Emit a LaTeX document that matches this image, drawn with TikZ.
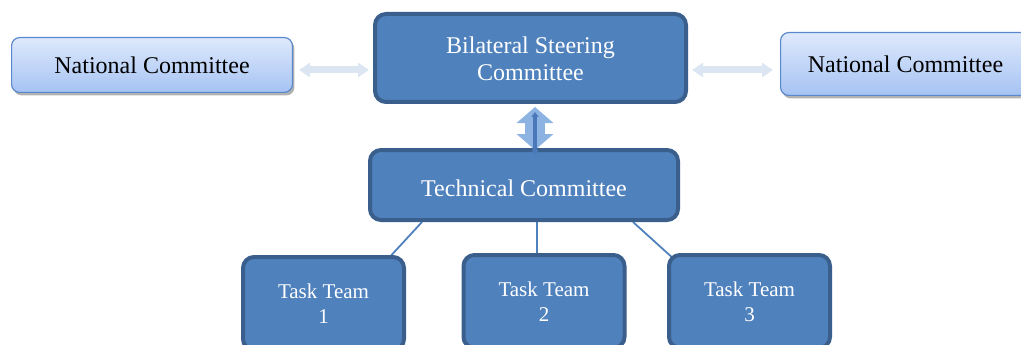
\documentclass[tikz,border=0pt]{standalone}
\usepackage{fontspec}
\setmainfont{Liberation Serif}
\usetikzlibrary{arrows.meta,shadows,backgrounds}
\definecolor{boxfill}{HTML}{4F81BD}
\definecolor{boxedge}{HTML}{3B5F8D}
\definecolor{paletop}{HTML}{DEE9FC}
\definecolor{palebot}{HTML}{A6C3F3}
\definecolor{paleedge}{HTML}{5B88CC}
\definecolor{sidearrow}{HTML}{DCE6F2}
\definecolor{vertarrow}{HTML}{8DB3E2}
\definecolor{vertcore}{HTML}{4A78B8}
\definecolor{linkcol}{HTML}{4F81BD}
% lower a label inside its box without changing the box's size
\newcommand\sunk[2][3pt]{\raisebox{-#1}[\height][\depth]{#2}}
\begin{document}
\begin{tikzpicture}[x=1pt,y=-1pt,
  darkbox/.style={draw=boxedge, line width=4pt, fill=boxfill, rounded corners=11pt,
    text=white, align=center, inner sep=0pt},
  palebox/.style={draw=paleedge, line width=1.2pt, rounded corners=8pt,
    top color=paletop, bottom color=palebot, align=center, inner sep=0pt,
    font=\fontsize{24}{27}\selectfont,
    drop shadow={shadow xshift=2pt, shadow yshift=-3pt, opacity=0.3, fill=black}},
  bigtext/.style={font=\fontsize{24}{27}\selectfont},
  teamtext/.style={font=\fontsize{21}{25}\selectfont},
  teambox/.style={darkbox, teamtext, minimum width=161pt, minimum height=93pt},
  sidelink/.style={line width=7pt, draw=sidearrow,
    {Triangle[width=14pt,length=11pt]}-{Triangle[width=14pt,length=11pt]}},
  vertlink/.style={line width=20pt, draw=vertarrow,
    {Triangle[width=36pt,length=16pt]}-{Triangle[width=36pt,length=16pt]}},
  vertinner/.style={line width=3.5pt, draw=vertcore,
    {Triangle[width=7pt,length=5pt]}-{Triangle[width=7pt,length=5pt]}},
  teamlink/.style={draw=linkcol, line width=1.8pt}]
\useasboundingbox (0,0) rectangle (1021,345);
\clip (0,0) rectangle (1021,345);

% committees
\node[palebox, minimum width=280.8pt, minimum height=54.8pt] (nc1) at (152,65) {National Committee};
\node[palebox, minimum width=249.8pt, minimum height=62.8pt] (nc2) at (905.5,64) {National Committee};
\node[darkbox, bigtext, minimum width=311pt, minimum height=88pt] (bsc) at (530.5,58)
  {\sunk[4pt]{\begin{tabular}{@{}c@{}}Bilateral Steering\\Committee\end{tabular}}};
\node[darkbox, bigtext, minimum width=308pt, minimum height=70pt] (tc) at (524,185)
  {\sunk{Technical Committee}};

% task teams
\node[teambox] (tt1) at (323.5,303.5) {Task Team\\1};
\node[teambox] (tt2) at (544,301.5) {Task Team\\2};
\node[teambox] (tt3) at (749.5,301.5) {Task Team\\3};

% links between committees
\draw[sidelink] ([xshift=6pt,yshift=-5pt]nc1.east) -- ([xshift=-4pt,yshift=-12pt]bsc.west);
\draw[sidelink] ([xshift=4pt,yshift=-12pt]bsc.east) -- ([xshift=-7pt,yshift=-6pt]nc2.west);
\draw[vertlink] ([xshift=4.5pt,yshift=-3pt]bsc.south) -- ([xshift=11pt,yshift=-2pt]tc.north);
\draw[vertinner] ([xshift=4.5pt,yshift=-8pt]bsc.south) -- ([xshift=11pt,yshift=-7pt]tc.north);

% links to task teams
\begin{scope}[on background layer]
\draw[teamlink] ([xshift=-102pt]tc.south) -- ([xshift=57pt,yshift=-12pt]tt1.north);
\draw[teamlink] ([xshift=13pt]tc.south) -- ([xshift=-7pt]tt2.north);
\draw[teamlink] ([xshift=109pt]tc.south) -- ([xshift=-74.5pt,yshift=-7pt]tt3.north);
\end{scope}
\end{tikzpicture}
\end{document}
